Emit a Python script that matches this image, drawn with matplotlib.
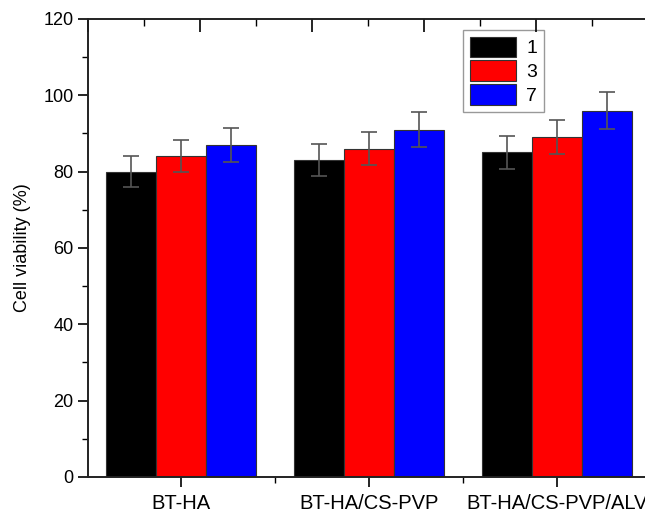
import numpy as np
import matplotlib.pyplot as plt
from matplotlib.ticker import MultipleLocator

plt.rcParams['font.family'] = ['Liberation Sans', 'DejaVu Sans']

groups = ['BT-HA', 'BT-HA/CS-PVP', 'BT-HA/CS-PVP/ALV']
days = ['1', '3', '7']
day1 = [80, 83, 85]
day3 = [84, 86, 89]
day7 = [87, 91, 96]
err1 = [4.0, 4.1, 4.3]
err3 = [4.2, 4.3, 4.5]
err7 = [4.5, 4.6, 4.9]
colors = ['#000000', '#ff0000', '#0000ff']

fig = plt.figure(figsize=(6.45, 5.13), dpi=100)
ax = fig.add_axes([0.1364, 0.0702, 0.873, 0.893])

x = np.arange(1, len(groups) + 1)
w = 0.267
series = [day1, day3, day7]
errs = [err1, err3, err7]
for i in range(3):
    ax.bar(x + (i - 1) * w, series[i], w, color=colors[i], edgecolor='#333333',
           linewidth=0.8, label=days[i],
           yerr=errs[i], ecolor='#555555', capsize=6,
           error_kw=dict(elinewidth=1.2, capthick=1.2))

ax.set_xlim(0.505, 3.5)
ax.set_ylim(0, 120)
ax.set_xticks(x)
ax.set_xticklabels(groups, fontsize=14.5)
ax.xaxis.set_minor_locator(MultipleLocator(0.5))
ax.yaxis.set_major_locator(MultipleLocator(20))
ax.yaxis.set_minor_locator(MultipleLocator(10))
ax.tick_params(axis='y', which='major', labelsize=13, length=7, width=1.2, direction='out')
ax.tick_params(axis='y', which='minor', length=4, width=1.0, direction='out')
ax.tick_params(axis='x', which='major', length=7, width=1.2, direction='out', pad=5)
ax.tick_params(axis='x', which='minor', length=4, width=1.0, direction='out')
ax.set_ylabel('Cell viability (%)', fontsize=13, labelpad=9)

# top axis ticks (inward, unlabeled)
top = ax.twiny()
top.set_xlim(0, (651 - 88) / 112)
top.xaxis.set_major_locator(MultipleLocator(1))
top.xaxis.set_minor_locator(MultipleLocator(0.5))
top.tick_params(axis='x', which='major', direction='in', length=9, width=1.2, labeltop=False)
top.tick_params(axis='x', which='minor', direction='in', length=5, width=1.0)

for a in (ax, top):
    for s in a.spines.values():
        s.set_linewidth(1.2)
        s.set_color('#222222')

ax.legend(loc='upper left', bbox_to_anchor=(0.666, 0.976), fontsize=14,
          handlelength=2.4, handleheight=1.25, labelspacing=0.15,
          borderpad=0.35, borderaxespad=0, handletextpad=0.5, fancybox=False,
          edgecolor='#999999', framealpha=1)

fig.savefig('out.png', dpi=100)
